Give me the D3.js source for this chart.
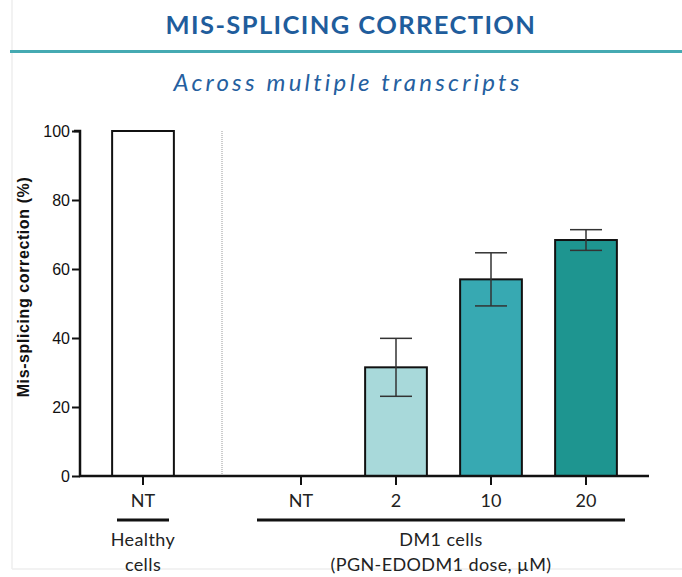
<!DOCTYPE html>
<head>
<style type="text/css">
    body {
      margin: 0;
      background: #fff;
    }
</style>
</head>
<script src="https://d3js.org/d3.v7.min.js"></script>
<body>
    <svg width="682" height="577"></svg>
    <script>
        // values
        var healthyCats = ["NT"],
            healthyVals = [100];

        var doseCats = ["NT", "2", "10", "20"],
            doseVals = [0, 31.5, 57, 68.4],
            doseErr = [0, 8.4, 7.7, 3];

        var doseColors = ["#fff", "#a8d9da", "#37a9b2", "#1e9590"];

        var yTicks = [0, 20, 40, 60, 80, 100];

        var width = 682,
            height = 577,
            x0 = 80,
            xEnd = 649,
            yBase = 476,
            yTop = 131;

        var svg = d3.select("svg");

        // light frame
        svg.append("line")
            .attr("x1", 12).attr("x2", 12).attr("y1", 0).attr("y2", 569)
            .style("stroke", "#eeeeee").style("stroke-width", 1.5);
        svg.append("line")
            .attr("x1", 12).attr("x2", width).attr("y1", 569).attr("y2", 569)
            .style("stroke", "#eeeeee").style("stroke-width", 1.5);

        // titles
        svg.append("text")
            .attr("x", 351).attr("y", 34)
            .attr("text-anchor", "middle")
            .style("font-family", "Lato, sans-serif")
            .style("font-weight", "bold")
            .style("font-size", "25.5px")
            .style("letter-spacing", "1.4px")
            .style("fill", "#1f5d9c")
            .text("MIS-SPLICING CORRECTION");

        svg.append("line")
            .attr("x1", 10).attr("x2", width).attr("y1", 51.5).attr("y2", 51.5)
            .style("stroke", "#45aab2").style("stroke-width", 3);

        svg.append("text")
            .attr("x", 348).attr("y", 90.5)
            .attr("text-anchor", "middle")
            .style("font-family", "Lato, sans-serif")
            .style("font-style", "italic")
            .style("font-size", "24px")
            .style("letter-spacing", "3.2px")
            .style("fill", "#255f9f")
            .text("Across multiple transcripts");

        // scales
        var y = d3.scaleLinear().domain([0, 100]).range([yBase, yTop]);

        var xH = d3.scaleBand().domain(healthyCats).range([95.5, 190.5])
            .paddingInner(0.35).paddingOuter(0.175);
        var xD = d3.scaleBand().domain(doseCats).range([253.5, 633.5])
            .paddingInner(0.35).paddingOuter(0.175);

        // dotted separator
        svg.append("line")
            .attr("x1", 222).attr("x2", 222).attr("y1", yTop).attr("y2", yBase)
            .style("stroke", "#999").style("stroke-width", 1)
            .style("stroke-dasharray", "1,1");

        // healthy bar
        svg.selectAll(".hbar")
            .data(healthyVals)
            .enter().append("rect")
            .attr("class", "hbar")
            .attr("x", function(d, i) { return xH(healthyCats[i]); })
            .attr("y", function(d) { return y(d); })
            .attr("width", xH.bandwidth())
            .attr("height", function(d) { return y(0) - y(d); })
            .style("fill", "#fff")
            .style("stroke", "#111")
            .style("stroke-width", 2);

        // dose bars
        var doseData = doseCats.map(function(c, i) {
            return {cat: c, v: doseVals[i], e: doseErr[i], col: doseColors[i]};
        }).filter(function(d) { return d.v > 0; });

        svg.selectAll(".dbar")
            .data(doseData)
            .enter().append("rect")
            .attr("class", "dbar")
            .attr("x", function(d) { return xD(d.cat); })
            .attr("y", function(d) { return y(d.v); })
            .attr("width", xD.bandwidth())
            .attr("height", function(d) { return y(0) - y(d.v); })
            .style("fill", function(d) { return d.col; })
            .style("stroke", "#111")
            .style("stroke-width", 2);

        // error bars
        var eb = svg.selectAll(".err")
            .data(doseData)
            .enter().append("g")
            .attr("class", "err")
            .style("stroke", "#333")
            .style("stroke-width", 1.5);

        eb.append("line")
            .attr("x1", function(d) { return xD(d.cat) + xD.bandwidth() / 2; })
            .attr("x2", function(d) { return xD(d.cat) + xD.bandwidth() / 2; })
            .attr("y1", function(d) { return y(d.v - d.e); })
            .attr("y2", function(d) { return y(d.v + d.e); });
        [1, -1].forEach(function(s) {
            eb.append("line")
                .attr("x1", function(d) { return xD(d.cat) + xD.bandwidth() / 2 - 16; })
                .attr("x2", function(d) { return xD(d.cat) + xD.bandwidth() / 2 + 16; })
                .attr("y1", function(d) { return y(d.v + s * d.e); })
                .attr("y2", function(d) { return y(d.v + s * d.e); });
        });

        // y axis
        var yAxis = svg.append("g")
            .attr("transform", "translate(" + x0 + ",0)")
            .call(d3.axisLeft(y).tickValues(yTicks).tickSize(8).tickPadding(2));
        yAxis.select(".domain").attr("d", "M-6," + yTop + "H0V" + yBase)
            .style("stroke", "#111").style("stroke-width", 2.5);
        yAxis.selectAll(".tick line").style("stroke", "#111").style("stroke-width", 2);
        yAxis.selectAll(".tick text")
            .style("font-family", "'Liberation Sans', Arial, sans-serif")
            .style("font-size", "16px")
            .style("fill", "#111");

        svg.append("text")
            .attr("transform", "translate(29,287) rotate(-90)")
            .attr("text-anchor", "middle")
            .style("font-family", "'Liberation Sans', Arial, sans-serif")
            .style("font-weight", "bold")
            .style("font-size", "16px")
            .style("letter-spacing", "0.6px")
            .style("fill", "#111")
            .text("Mis-splicing correction (%)");

        // x axis baseline
        svg.append("line")
            .attr("x1", x0 - 1).attr("x2", xEnd).attr("y1", yBase).attr("y2", yBase)
            .style("stroke", "#111").style("stroke-width", 2.5);

        function styleX(g) {
            g.select(".domain").remove();
            g.selectAll(".tick line").style("stroke", "#111").style("stroke-width", 2);
            g.selectAll(".tick text")
                .style("font-family", "Lato, sans-serif")
                .style("font-size", "18px")
                .style("fill", "#222");
        }

        svg.append("g")
            .attr("transform", "translate(0," + yBase + ")")
            .call(d3.axisBottom(xH).tickSize(9).tickPadding(9))
            .call(styleX);
        svg.append("g")
            .attr("transform", "translate(0," + yBase + ")")
            .call(d3.axisBottom(xD).tickSize(9).tickPadding(9))
            .call(styleX);

        // group brackets
        var groups = [
            {x1: 117, x2: 169, lines: ["Healthy", "cells"]},
            {x1: 257, x2: 625, lines: ["DM1 cells", "(PGN-EDODM1 dose, µM)"]}
        ];
        groups.forEach(function(g) {
            svg.append("line")
                .attr("x1", g.x1).attr("x2", g.x2).attr("y1", 520).attr("y2", 520)
                .style("stroke", "#111").style("stroke-width", 3);
            g.lines.forEach(function(t, i) {
                svg.append("text")
                    .attr("x", (g.x1 + g.x2) / 2)
                    .attr("y", 546 + i * 25)
                    .attr("text-anchor", "middle")
                    .style("font-family", "Lato, sans-serif")
                    .style("font-size", "18px")
                    .style("letter-spacing", "0.4px")
                    .style("fill", "#222")
                    .text(t);
            });
        });
    </script>
</body>
